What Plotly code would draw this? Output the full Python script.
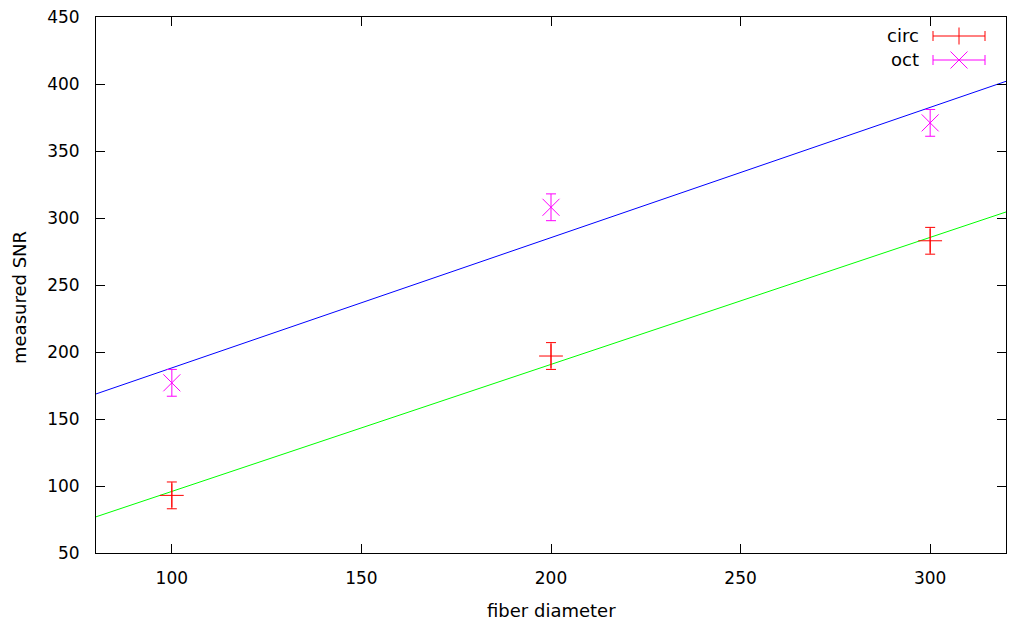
import plotly.graph_objects as go

# data
diameters = [100, 200, 300]
circ_snr = [93, 197, 283]
circ_err = [10, 10, 10]
oct_snr = [177, 308, 371]
oct_err = [10, 10, 10]
fit_x = [80, 320]
circ_fit = [77, 304.5]
oct_fit = [168.7, 402]
x_ticks = [100, 150, 200, 250, 300]
y_ticks = [50, 100, 150, 200, 250, 300, 350, 400, 450]

RED = "#ff0000"
MAG = "#ff00ff"
BLUE = "#0000ff"
GREEN = "#00ff00"
FONT = "DejaVu Sans"
FS = 18

fig = go.Figure()
fig.add_trace(go.Scatter(x=fit_x, y=oct_fit, mode="lines",
                         line=dict(color=BLUE, width=1), showlegend=False, hoverinfo="skip"))
fig.add_trace(go.Scatter(x=fit_x, y=circ_fit, mode="lines",
                         line=dict(color=GREEN, width=1), showlegend=False, hoverinfo="skip"))
fig.add_trace(go.Scatter(x=diameters, y=circ_snr, mode="markers", name="circ",
                         marker=dict(symbol="cross-thin", size=17, color=RED,
                                     line=dict(color=RED, width=1)),
                         error_y=dict(type="data", array=circ_err, color=RED,
                                      thickness=1, width=5),
                         showlegend=False))
fig.add_trace(go.Scatter(x=diameters, y=oct_snr, mode="markers", name="oct",
                         marker=dict(symbol="x-thin", size=17, color=MAG,
                                     line=dict(color=MAG, width=1)),
                         error_y=dict(type="data", array=oct_err, color=MAG,
                                      thickness=1, width=5),
                         showlegend=False))

# plot area geometry (pixels) used for custom gnuplot-like legend
L, R, T, B = 96, 1006, 17, 553
W, H = R - L, B - T
def px(x):
    return (x - L) / W
def py(y):
    return (B - y) / H

shapes = []
annotations = []
legend = [("circ", RED, 36, "plus"), ("oct", MAG, 60, "x")]
for label, col, yy, sym in legend:
    x0, x1, xm = 933, 985, 959
    shapes.append(dict(type="line", xref="paper", yref="paper", x0=px(x0), x1=px(x1),
                       y0=py(yy), y1=py(yy), line=dict(color=col, width=1)))
    for xc in (x0, x1):
        shapes.append(dict(type="line", xref="paper", yref="paper", x0=px(xc), x1=px(xc),
                           y0=py(yy - 5), y1=py(yy + 5), line=dict(color=col, width=1)))
    if sym == "plus":
        shapes.append(dict(type="line", xref="paper", yref="paper", x0=px(xm), x1=px(xm),
                           y0=py(yy - 8.5), y1=py(yy + 8.5), line=dict(color=col, width=1)))
    else:
        shapes.append(dict(type="line", xref="paper", yref="paper", x0=px(xm - 8.5), x1=px(xm + 8.5),
                           y0=py(yy - 8.5), y1=py(yy + 8.5), line=dict(color=col, width=1)))
        shapes.append(dict(type="line", xref="paper", yref="paper", x0=px(xm - 8.5), x1=px(xm + 8.5),
                           y0=py(yy + 8.5), y1=py(yy - 8.5), line=dict(color=col, width=1)))
    annotations.append(dict(text=label, xref="paper", yref="paper", x=px(921), y=py(yy),
                            xanchor="right", yanchor="middle", showarrow=False,
                            font=dict(family=FONT, size=FS, color="black")))

annotations.append(dict(text="fiber diameter", xref="paper", yref="paper",
                        x=px(551), y=py(610), xanchor="center", yanchor="middle",
                        showarrow=False, font=dict(family=FONT, size=FS, color="black")))
annotations.append(dict(text="measured SNR", xref="paper", yref="paper",
                        x=px(19), y=py(298), xanchor="center", yanchor="middle",
                        textangle=-90, showarrow=False,
                        font=dict(family=FONT, size=FS, color="black")))

axis_common = dict(showgrid=False, zeroline=False, showline=True, linecolor="black",
                   linewidth=1, mirror="ticks", ticks="inside", ticklen=9,
                   tickcolor="black", tickwidth=1, automargin=False,
                   tickfont=dict(family=FONT, size=17, color="black"))

fig.update_layout(
    width=1019, height=626,
    margin=dict(l=L, r=1019 - R, t=T, b=626 - B, autoexpand=False),
    paper_bgcolor="white", plot_bgcolor="white",
    showlegend=False,
    xaxis=dict(range=[80, 320], tickvals=x_ticks, ticklabelstandoff=10, **axis_common),
    yaxis=dict(range=[50, 450], tickvals=y_ticks, ticklabelstandoff=12, **axis_common),
    shapes=shapes, annotations=annotations,
)

fig.write_html("out.html", config={"displayModeBar": False},
               post_script="document.body.style.margin='0';document.body.style.overflow='hidden';")
